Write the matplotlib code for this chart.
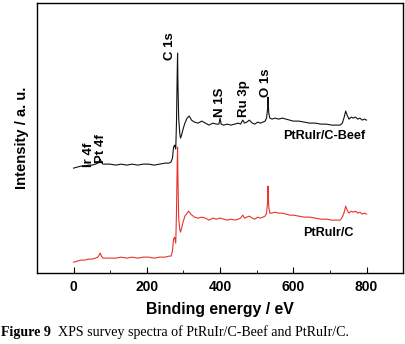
import matplotlib
matplotlib.use('Agg')
import matplotlib.pyplot as plt
from matplotlib.ticker import MultipleLocator

plt.rcParams['font.family'] = ['Liberation Sans', 'DejaVu Sans']

# binding energy (eV) and intensity (a.u.)
be_beef = [0, 10, 20, 30, 40, 50, 60, 66, 70, 73, 76, 80, 90, 100, 115, 130, 145,
           160, 175, 190, 205, 220, 235, 250, 260, 266, 270, 273, 276, 279, 281,
           283, 284, 285, 287, 290, 292, 295, 299, 304, 310, 316, 322, 330, 340,
           350, 360, 370, 380, 390, 397, 400, 403, 410, 420, 430, 440, 450, 456,
           462, 467, 473, 480, 488, 495, 503, 510, 517, 523, 527, 530, 531, 533,
           536, 542, 550, 560, 570, 580, 590, 600, 615, 630, 645, 660, 675, 690,
           705, 718, 728, 734, 739, 743, 747, 752, 758, 764, 770, 776, 782, 788,
           794, 800]
int_beef = [105, 106, 107, 107, 108, 108, 109, 110, 112, 114, 111, 109, 109, 109,
            108, 109, 108, 109, 108, 109, 109, 108, 109, 110, 110, 111, 115, 126,
            128, 124, 150, 200, 220, 190, 155, 140, 135, 138, 144, 150, 155, 157,
            153, 151, 150, 152, 150, 148, 150, 149, 149, 155, 149, 148, 149, 148,
            149, 150, 149, 153, 150, 151, 153, 150, 149, 151, 150, 151, 152, 155,
            165, 176, 160, 155, 154, 155, 154, 155, 154, 153, 152, 152, 151, 150,
            150, 149, 149, 148, 148, 148, 150, 156, 162, 158, 154, 156, 155, 156,
            154, 155, 153, 154, 153]

be_ref = [0, 10, 20, 30, 40, 50, 60, 66, 70, 73, 76, 80, 90, 100, 115, 130, 145,
          160, 175, 190, 205, 220, 235, 250, 260, 266, 270, 273, 276, 279, 281,
          283, 284, 285, 287, 290, 292, 295, 299, 304, 310, 314, 320, 330, 340,
          350, 360, 370, 380, 390, 400, 410, 420, 430, 440, 450, 456, 462, 467,
          473, 480, 488, 495, 503, 510, 517, 523, 527, 530, 531, 533, 536, 542,
          550, 560, 570, 580, 590, 600, 615, 630, 645, 660, 675, 690, 705, 718,
          728, 734, 739, 743, 747, 752, 758, 764, 770, 776, 782, 788, 794, 800]
int_ref = [11, 12, 13, 13, 14, 14, 15, 16, 18, 20, 17, 15, 15, 15, 15, 16, 15,
           16, 15, 16, 16, 15, 16, 16, 17, 17, 22, 34, 36, 30, 60, 110, 126, 95,
           55, 44, 41, 45, 51, 57, 60, 62, 59, 56, 55, 56, 55, 53, 55, 54, 55,
           54, 53, 54, 53, 54, 55, 58, 55, 56, 57, 55, 54, 56, 55, 56, 57, 60,
           72, 87, 66, 60, 60, 61, 60, 60, 59, 58, 58, 57, 56, 56, 55, 54, 54,
           53, 53, 53, 56, 61, 67, 63, 60, 62, 61, 62, 60, 61, 59, 60, 59]

peaks = ['Ir 4f', 'Pt 4f', 'C 1s', 'N 1S', 'Ru 3p', 'O 1s']
peak_x = [42, 76, 262, 400, 466, 526]
peak_y = [106, 110, 213, 156, 156, 176]

fig = plt.figure(figsize=(4.06, 3.44), dpi=100)
ax = fig.add_axes([0.091, 0.206, 0.902, 0.785])

ax.plot(be_ref, int_ref, color='#e8332b', lw=0.8)
ax.plot(be_beef, int_beef, color='#111111', lw=0.8)

for name, x, y in zip(peaks, peak_x, peak_y):
    ax.text(x, y, name, rotation=90, ha='center', va='bottom',
            fontsize=9.5, fontweight='bold')

ax.text(796, 137, 'PtRuIr/C-Beef', ha='right', va='center', fontsize=9.1,
        fontweight='bold')
ax.text(766, 40, 'PtRuIr/C', ha='right', va='center', fontsize=9.1,
        fontweight='bold')

ax.set_xlim(-100, 900)
ax.set_ylim(0, 270)
ax.xaxis.set_major_locator(MultipleLocator(200))
ax.xaxis.set_minor_locator(MultipleLocator(100))
ax.tick_params(axis='x', which='both', direction='in', top=False)
ax.tick_params(axis='x', which='major', length=4, labelsize=10, pad=5)
ax.tick_params(axis='x', which='minor', length=2.5)
ax.set_yticks([])
for lab in ax.get_xticklabels():
    lab.set_fontweight('bold')
for sp in ax.spines.values():
    sp.set_linewidth(1.0)

ax.set_xlabel('Binding energy / eV', fontsize=11.4, fontweight='bold', labelpad=6)
ax.set_ylabel('Intensity / a. u.', fontsize=10.6, fontweight='bold', labelpad=6)

serif = ['Liberation Serif', 'DejaVu Serif']
t1 = fig.text(0.003, 0.022, 'Figure 9', fontsize=10.1, fontweight='bold',
              family=serif)
ax.annotate('  XPS survey spectra of PtRuIr/C-Beef and PtRuIr/C.',
            xy=(1, 0), xycoords=t1, va='bottom', ha='left', fontsize=10.1,
            family=serif, annotation_clip=False)

fig.savefig('out.png', dpi=100)
